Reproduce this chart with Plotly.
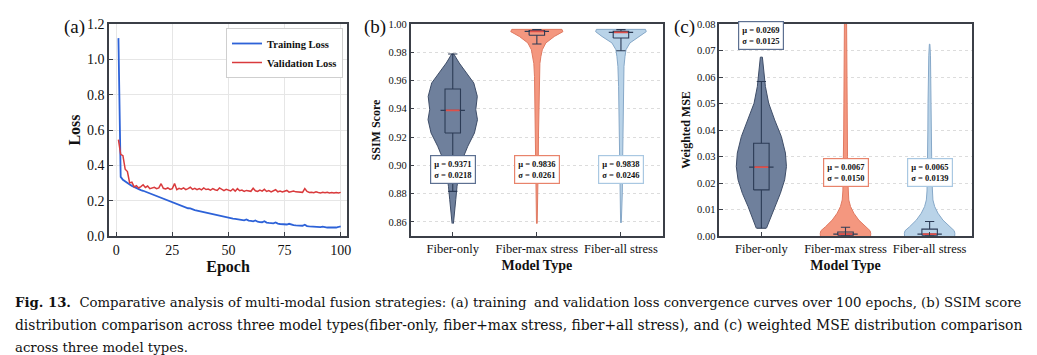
import plotly.graph_objects as go

# ---------------- data ----------------
epochs = list(range(1, 101))
train_loss = [
    1.120, 0.335, 0.318, 0.308, 0.299, 0.291, 0.284, 0.277, 0.271, 0.265,
    0.260, 0.256, 0.251, 0.247, 0.243, 0.237, 0.231, 0.225, 0.219, 0.214,
    0.209, 0.204, 0.199, 0.194, 0.189, 0.184, 0.178, 0.173, 0.168, 0.163,
    0.160, 0.157, 0.156, 0.150, 0.146, 0.143, 0.140, 0.136, 0.133, 0.130,
    0.127, 0.124, 0.122, 0.119, 0.116, 0.113, 0.111, 0.108, 0.105, 0.102,
    0.100, 0.098, 0.097, 0.095, 0.093, 0.091, 0.089, 0.094, 0.087, 0.085,
    0.083, 0.088, 0.081, 0.079, 0.078, 0.084, 0.076, 0.074, 0.073, 0.072,
    0.077, 0.070, 0.068, 0.067, 0.066, 0.065, 0.069, 0.063, 0.061, 0.060,
    0.059, 0.058, 0.058, 0.064, 0.056, 0.054, 0.053, 0.052, 0.051, 0.050,
    0.050, 0.053, 0.049, 0.048, 0.048, 0.047, 0.047, 0.048, 0.051, 0.055,
]
val_loss = [
    0.545, 0.462, 0.455, 0.378, 0.365, 0.300, 0.305, 0.278, 0.285, 0.272,
    0.280, 0.290, 0.275, 0.283, 0.268, 0.272, 0.276, 0.268, 0.272, 0.296,
    0.270, 0.266, 0.272, 0.264, 0.268, 0.297, 0.262, 0.270, 0.265, 0.272,
    0.262, 0.268, 0.276, 0.264, 0.270, 0.262, 0.268, 0.261, 0.272, 0.263,
    0.266, 0.259, 0.268, 0.262, 0.258, 0.272, 0.262, 0.257, 0.264, 0.258,
    0.255, 0.266, 0.254, 0.268, 0.256, 0.260, 0.252, 0.258, 0.255, 0.253,
    0.270, 0.256, 0.252, 0.260, 0.254, 0.264, 0.252, 0.257, 0.250, 0.256,
    0.262, 0.250, 0.254, 0.249, 0.252, 0.258, 0.248, 0.252, 0.255, 0.250,
    0.248, 0.250, 0.247, 0.268, 0.252, 0.246, 0.248, 0.245, 0.250, 0.246,
    0.244, 0.247, 0.245, 0.248, 0.244, 0.246, 0.243, 0.246, 0.244, 0.247,
]
loss_xticks = [0, 25, 50, 75, 100]
loss_yticks = [0.0, 0.2, 0.4, 0.6, 0.8, 1.0, 1.2]

categories = ["Fiber-only", "Fiber-max stress", "Fiber-all stress"]

# violin outlines: value levels and half widths (category units)
ssim_only_y = [0.8588, 0.8663, 0.8757, 0.8852, 0.8946, 0.9040, 0.9135, 0.9229,
               0.9323, 0.9394, 0.9488, 0.9583, 0.9653, 0.9724, 0.9788]
ssim_only_w = [0.008, 0.024, 0.036, 0.051, 0.075, 0.113, 0.179, 0.258,
               0.294, 0.274, 0.292, 0.250, 0.167, 0.077, 0.012]
ssim_max_y = [0.8588, 0.8757, 0.8993, 0.9229, 0.9465, 0.9629, 0.9720, 0.9770,
              0.9818, 0.9866, 0.9912, 0.9946, 0.9962]
ssim_max_w = [0.004, 0.012, 0.016, 0.020, 0.024, 0.028, 0.036, 0.048,
              0.065, 0.107, 0.208, 0.310, 0.298]
ssim_all_y = [0.8593, 0.8805, 0.9040, 0.9323, 0.9559, 0.9700, 0.9770, 0.9818,
              0.9866, 0.9912, 0.9946, 0.9962]
ssim_all_w = [0.004, 0.016, 0.020, 0.024, 0.028, 0.036, 0.048, 0.060,
              0.107, 0.226, 0.301, 0.292]

mse_only_y = [0.0029, 0.0060, 0.0111, 0.0161, 0.0212, 0.0262, 0.0313, 0.0375,
              0.0438, 0.0501, 0.0564, 0.0627, 0.0675]
mse_only_w = [0.060, 0.099, 0.158, 0.226, 0.277, 0.298, 0.286, 0.238,
              0.158, 0.087, 0.048, 0.024, 0.012]
mse_max_y = [0.0, 0.001, 0.002, 0.0035, 0.006, 0.0086, 0.0111, 0.0136, 0.017,
             0.022, 0.030, 0.040, 0.050, 0.060, 0.070, 0.080, 0.085]
mse_max_w = [0.298, 0.300, 0.292, 0.238, 0.158, 0.099, 0.060, 0.039, 0.031,
             0.026, 0.024, 0.021, 0.019, 0.017, 0.014, 0.012, 0.012]
mse_all_y = [0.0, 0.001, 0.002, 0.0035, 0.006, 0.0086, 0.0111, 0.0136, 0.017,
             0.022, 0.030, 0.040, 0.050, 0.060, 0.068, 0.0724]
mse_all_w = [0.298, 0.300, 0.292, 0.238, 0.158, 0.099, 0.060, 0.039, 0.031,
             0.026, 0.024, 0.021, 0.019, 0.016, 0.010, 0.003]

# box statistics
ssim_q1 = [0.9229, 0.9920, 0.9901]
ssim_med = [0.9389, 0.9948, 0.9941]
ssim_q3 = [0.9540, 0.9953, 0.9948]
ssim_lo = [0.8816, 0.9859, 0.9811]
ssim_hi = [0.9788, 0.9960, 0.9960]
mse_q1 = [0.0174, 0.0003, 0.0003]
mse_med = [0.0260, 0.0007, 0.0007]
mse_q3 = [0.0350, 0.0015, 0.0026]
mse_lo = [0.0029, 0.0, 0.0]
mse_hi = [0.0583, 0.0033, 0.0055]

ssim_mu = [0.9371, 0.9836, 0.9838]
ssim_sigma = [0.0218, 0.0261, 0.0246]
mse_mu = [0.0269, 0.0067, 0.0065]
mse_sigma = [0.0125, 0.0150, 0.0139]

ssim_yticks = [0.86, 0.88, 0.90, 0.92, 0.94, 0.96, 0.98, 1.00]
mse_yticks = [0.00, 0.01, 0.02, 0.03, 0.04, 0.05, 0.06, 0.07, 0.08]

# ---------------- style ----------------
W, H = 1037, 355
SERIF = "Liberation Serif"
FRAME = "#3b3f47"
fills = ["#6f809c", "#f4977f", "#b9d3e8"]
edges = ["#3e4d68", "#e07a62", "#86a8c8"]
label_borders = ["#5d7091", "#e8836b", "#a9c8e2"]
BOXC = "#2c3b55"
MEDRED = "#e0504a"
BOX_HW = 0.092     # half width of box
CAP_HW = 0.055     # half width of whisker caps
MED_HW = 0.145     # half width of the dark median bar


def px_x(p):
    return p / W


def px_y(p):
    return 1 - p / H


fig = go.Figure()

# ---- panel (a) ----
fig.add_trace(go.Scatter(x=epochs, y=train_loss, mode="lines", name="Training Loss",
                         line=dict(color="#2d62d8", width=1.8), xaxis="x", yaxis="y"))
fig.add_trace(go.Scatter(x=epochs, y=val_loss, mode="lines", name="Validation Loss",
                         line=dict(color="#d93a3c", width=1.5), xaxis="x", yaxis="y"))


def add_violin_panel(xa, ya, profiles, q1, med, q3, lo, hi):
    for i, (yy, ww) in enumerate(profiles):
        xs = [i + w for w in ww] + [i - w for w in ww[::-1]]
        ys = list(yy) + list(yy[::-1])
        fig.add_trace(go.Scatter(x=xs, y=ys, mode="lines", fill="toself",
                                 fillcolor=fills[i], line=dict(color=edges[i], width=1),
                                 showlegend=False, hoverinfo="skip", xaxis=xa, yaxis=ya))
    for i in range(3):
        bx = [i - BOX_HW, i + BOX_HW, i + BOX_HW, i - BOX_HW, i - BOX_HW, None,
              i, i, None, i, i, None,
              i - CAP_HW, i + CAP_HW, None, i - CAP_HW, i + CAP_HW, None,
              i - MED_HW, i + MED_HW]
        by = [q1[i], q1[i], q3[i], q3[i], q1[i], None,
              q3[i], hi[i], None, q1[i], lo[i], None,
              hi[i], hi[i], None, lo[i], lo[i], None,
              med[i], med[i]]
        fig.add_trace(go.Scatter(x=bx, y=by, mode="lines",
                                 line=dict(color=BOXC, width=1.1), showlegend=False,
                                 hoverinfo="skip", xaxis=xa, yaxis=ya))
        fig.add_trace(go.Scatter(x=[i - BOX_HW + 0.01, i + BOX_HW - 0.01], y=[med[i], med[i]],
                                 mode="lines", line=dict(color=MEDRED, width=1.6),
                                 showlegend=False, hoverinfo="skip", xaxis=xa, yaxis=ya))


add_violin_panel("x2", "y2",
                 [(ssim_only_y, ssim_only_w), (ssim_max_y, ssim_max_w), (ssim_all_y, ssim_all_w)],
                 ssim_q1, ssim_med, ssim_q3, ssim_lo, ssim_hi)
add_violin_panel("x3", "y3",
                 [(mse_only_y, mse_only_w), (mse_max_y, mse_max_w), (mse_all_y, mse_all_w)],
                 mse_q1, mse_med, mse_q3, mse_lo, mse_hi)

# ---------------- layout ----------------
dom_y = [px_y(236), px_y(24)]
axis_common = dict(showline=True, linecolor=FRAME, linewidth=1.5, mirror=True,
                   ticks="inside", ticklen=4, tickwidth=1, tickcolor=FRAME, zeroline=False)

annotations = []
# stats labels
ssim_label_y = 0.897
mse_label_y = [0.0756, 0.0239, 0.0239]
for i in range(3):
    annotations.append(dict(
        x=i, y=ssim_label_y, xref="x2", yref="y2",
        text=f"<b>\u03bc = {ssim_mu[i]:.4f}<br>\u03c3 = {ssim_sigma[i]:.4f}</b>",
        showarrow=False, font=dict(family=SERIF, size=8.5, color="#111"),
        bgcolor="white", bordercolor=label_borders[i], borderwidth=1.2, borderpad=3,
        align="center"))
    annotations.append(dict(
        x=i, y=mse_label_y[i], xref="x3", yref="y3",
        text=f"<b>\u03bc = {mse_mu[i]:.4f}<br>\u03c3 = {mse_sigma[i]:.4f}</b>",
        showarrow=False, font=dict(family=SERIF, size=8.5, color="#111"),
        bgcolor="white", bordercolor=label_borders[i], borderwidth=1.2, borderpad=3,
        align="center"))

# panel letters
for letter, xp in [("(a)", 74), ("(b)", 375), ("(c)", 684)]:
    annotations.append(dict(x=px_x(xp), y=px_y(27), xref="paper", yref="paper",
                            xanchor="center", yanchor="middle",
                            text=letter, showarrow=False,
                            font=dict(family=SERIF, size=19, color="#111")))

# caption (justified lines approximated by a left- and a right-anchored half)
CAP = "DejaVu Serif"
cap_lines = [
    ("<b>Fig. 13.</b>  Comparative analysis of multi-modal fusion strategies: (a) training",
     "and validation loss convergence curves over 100 epochs, (b) SSIM score", 302, 13.25),
    ("distribution comparison across three model types(fiber-only, fiber+max",
     "stress, fiber+all stress), and (c) weighted MSE distribution comparison", 324.5, 13.85),
]
for left, right, yp, fs in cap_lines:
    cap_font = dict(family=CAP, size=fs, color="#111")
    annotations.append(dict(x=px_x(13), y=px_y(yp), xref="paper", yref="paper",
                            xanchor="left", yanchor="middle", text=left,
                            showarrow=False, font=cap_font))
    annotations.append(dict(x=px_x(1024), y=px_y(yp), xref="paper", yref="paper",
                            xanchor="right", yanchor="middle", text=right,
                            showarrow=False, font=cap_font))
annotations.append(dict(x=px_x(13), y=px_y(347), xref="paper", yref="paper",
                        xanchor="left", yanchor="middle", text="across three model types.",
                        showarrow=False, font=dict(family=CAP, size=13.25, color="#111")))

fig.update_layout(
    width=W, height=H, margin=dict(l=0, r=0, t=0, b=0, autoexpand=False),
    paper_bgcolor="white", plot_bgcolor="white",
    font=dict(family=SERIF, color="#111"),
    showlegend=True,
    legend=dict(x=px_x(343), y=px_y(28), xanchor="right", yanchor="top",
                bgcolor="white", bordercolor="#cfcfcf", borderwidth=1,
                font=dict(family=SERIF, size=10.5, color="#111", weight="bold"),
                itemwidth=30, tracegroupgap=0),
    xaxis=dict(domain=[px_x(109), px_x(347)], range=[-3.2, 102.8], tickvals=loss_xticks,
               showgrid=True, gridcolor="#e6e6e6", gridwidth=1,
               tickfont=dict(family=SERIF, size=14),
               title=dict(text="<b>Epoch</b>", font=dict(family=SERIF, size=16), standoff=4),
               anchor="y", **axis_common),
    yaxis=dict(domain=dom_y, range=[0, 1.2], tickvals=loss_yticks, tickformat=".1f",
               showgrid=True, gridcolor="#e6e6e6", gridwidth=1,
               tickfont=dict(family=SERIF, size=14),
               title=dict(text="<b>Loss</b>", font=dict(family=SERIF, size=16), standoff=2),
               anchor="x", **axis_common),
    xaxis2=dict(domain=[px_x(410.7), px_x(663)], range=[-0.5, 2.5],
                tickvals=[0, 1, 2], ticktext=categories, showgrid=False,
                tickfont=dict(family=SERIF, size=12.5),
                title=dict(text="<b>Model Type</b>", font=dict(family=SERIF, size=14), standoff=5),
                anchor="y2", **axis_common),
    yaxis2=dict(domain=dom_y, range=[0.85, 1.0], tickvals=ssim_yticks, tickformat=".2f",
                showgrid=True, gridcolor="#dcdcdc", griddash="dot", gridwidth=1,
                tickfont=dict(family=SERIF, size=10.5),
                title=dict(text="<b>SSIM Score</b>", font=dict(family=SERIF, size=12), standoff=5),
                anchor="x2", **axis_common),
    xaxis3=dict(domain=[px_x(719.3), px_x(971.7)], range=[-0.5, 2.5],
                tickvals=[0, 1, 2], ticktext=categories, showgrid=False,
                tickfont=dict(family=SERIF, size=12.5),
                title=dict(text="<b>Model Type</b>", font=dict(family=SERIF, size=14), standoff=5),
                anchor="y3", **axis_common),
    yaxis3=dict(domain=dom_y, range=[0, 0.08], tickvals=mse_yticks, tickformat=".2f",
                showgrid=True, gridcolor="#dcdcdc", griddash="dot", gridwidth=1,
                tickfont=dict(family=SERIF, size=10.5),
                title=dict(text="<b>Weighted MSE</b>", font=dict(family=SERIF, size=12), standoff=4),
                anchor="x3", **axis_common),
    annotations=annotations,
)

fig.write_html("out.html", config={"displayModeBar": False},
               post_script="document.body.style.margin='0';")
